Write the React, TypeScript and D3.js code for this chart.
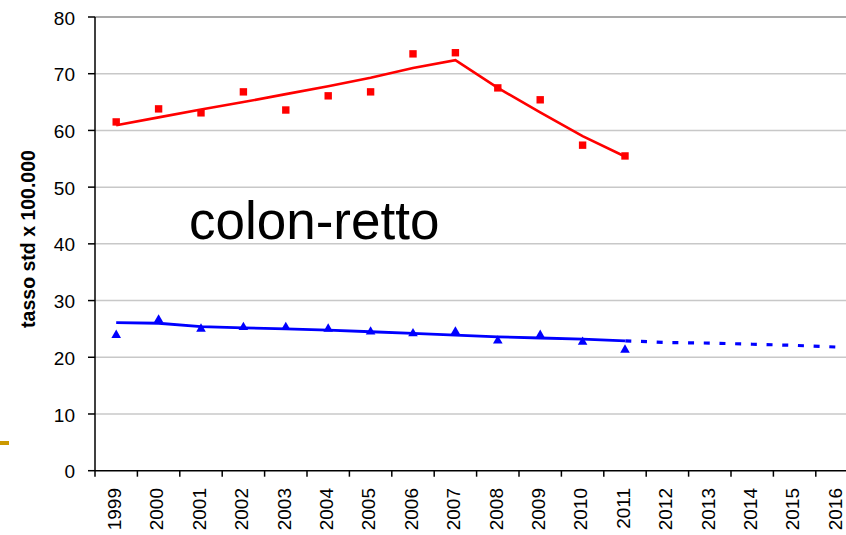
import React from "react";
import * as d3 from "d3";

const years = ["1999","2000","2001","2002","2003","2004","2005","2006","2007","2008","2009","2010","2011","2012","2013","2014","2015","2016"];
const obsYears = years.slice(0, 13);
const redObserved = [61.5, 63.8, 63.1, 66.8, 63.6, 66.1, 66.8, 73.5, 73.7, 67.5, 65.4, 57.4, 55.5];
const redTrend = [60.9, 62.3, 63.7, 65.0, 66.4, 67.8, 69.3, 71.0, 72.4, 67.5, 63.2, 59.0, 55.4];
const blueObserved = [23.9, 26.6, 25.0, 25.3, 25.3, 25.0, 24.5, 24.2, 24.5, 22.9, 23.9, 22.7, 21.3];
const blueTrend = [26.1, 26.0, 25.4, 25.2, 25.0, 24.8, 24.5, 24.2, 23.9, 23.6, 23.4, 23.2, 22.9];
const projYears = ["2011","2012","2013","2014","2015","2016"];
const blueProjection = [22.9, 22.6, 22.5, 22.3, 22.1, 21.8];
const yTicks = [0, 10, 20, 30, 40, 50, 60, 70, 80];

export default function App() {
  const W = 846, H = 535;
  const x0 = 95, bw = 42.4;
  const x = d3.scaleBand<string>().domain(years).range([x0, x0 + bw * years.length]).padding(0);
  const y = d3.scaleLinear().domain([0, 80]).range([470.7, 17]);
  const cx = (yr: string) => (x(yr) as number) + x.bandwidth() / 2;
  const line = d3.line<[string, number]>().x(d => cx(d[0])).y(d => y(d[1]));
  const zip = (ys: string[], vs: number[]) => ys.map((k, i) => [k, vs[i]] as [string, number]);
  const tri = d3.symbol().type(d3.symbolTriangle).size(40)();

  return (
    <div style={{ position: "fixed", left: 0, top: 0 }}>
      <svg width={W} height={H} style={{ display: "block", background: "#fff" }} fontFamily="'Liberation Sans', Arial, sans-serif">
        {yTicks.filter(t => t > 0).map(t => (
          <line key={t} x1={x0} x2={W} y1={y(t)} y2={y(t)} stroke={t === 80 ? "#8c8c8c" : "#c8c8c8"} strokeWidth={1.5} />
        ))}
        <line x1={x0} x2={x0} y1={y(80)} y2={y(0)} stroke="#000" strokeWidth={1.5} />
        {yTicks.map(t => (
          <g key={t}>
            <line x1={x0 - 7} x2={x0} y1={y(t)} y2={y(t)} stroke="#000" strokeWidth={1.5} />
            <text x={75} y={y(t)} textAnchor="end" dy="0.4em" fontSize={19} fill="#000">{t}</text>
          </g>
        ))}
        <line x1={x0} x2={W} y1={y(0)} y2={y(0)} stroke="#000" strokeWidth={1.5} />
        {years.map(yr => (
          <g key={yr}>
            <line x1={x(yr) as number} x2={x(yr) as number} y1={y(0)} y2={y(0) + 6} stroke="#000" strokeWidth={1.5} />
            <text transform={`translate(${cx(yr) - 2},488) rotate(-90)`} textAnchor="end" dy="0.36em" fontSize={19} fill="#000">{yr}</text>
          </g>
        ))}
        <text transform="translate(35,239) rotate(-90)" textAnchor="middle" fontSize={19.5} fontWeight="bold" fill="#000">tasso std x 100.000</text>
        <path d={line(zip(obsYears, redTrend)) || ""} fill="none" stroke="#ff0000" strokeWidth={2.6} />
        {redObserved.map((v, i) => (
          <rect key={i} x={cx(obsYears[i]) - 3.7} y={y(v) - 3.7} width={7.4} height={7.4} fill="#ff0000" />
        ))}
        <path d={line(zip(obsYears, blueTrend)) || ""} fill="none" stroke="#0000ff" strokeWidth={2.8} />
        <path d={line(zip(projYears, blueProjection)) || ""} fill="none" stroke="#0000ff" strokeWidth={3.2} strokeDasharray="6 9.7" strokeDashoffset={15.4} />
        {blueObserved.map((v, i) => (
          <path key={i} d={tri || ""} transform={`translate(${cx(obsYears[i])},${y(v)})`} fill="#0000ff" />
        ))}
        <text x={189} y={239} fontSize={53} fill="#000">colon-retto</text>
        <rect x={0} y={441} width={9} height={4} fill="#cc9900" />
      </svg>
    </div>
  );
}
